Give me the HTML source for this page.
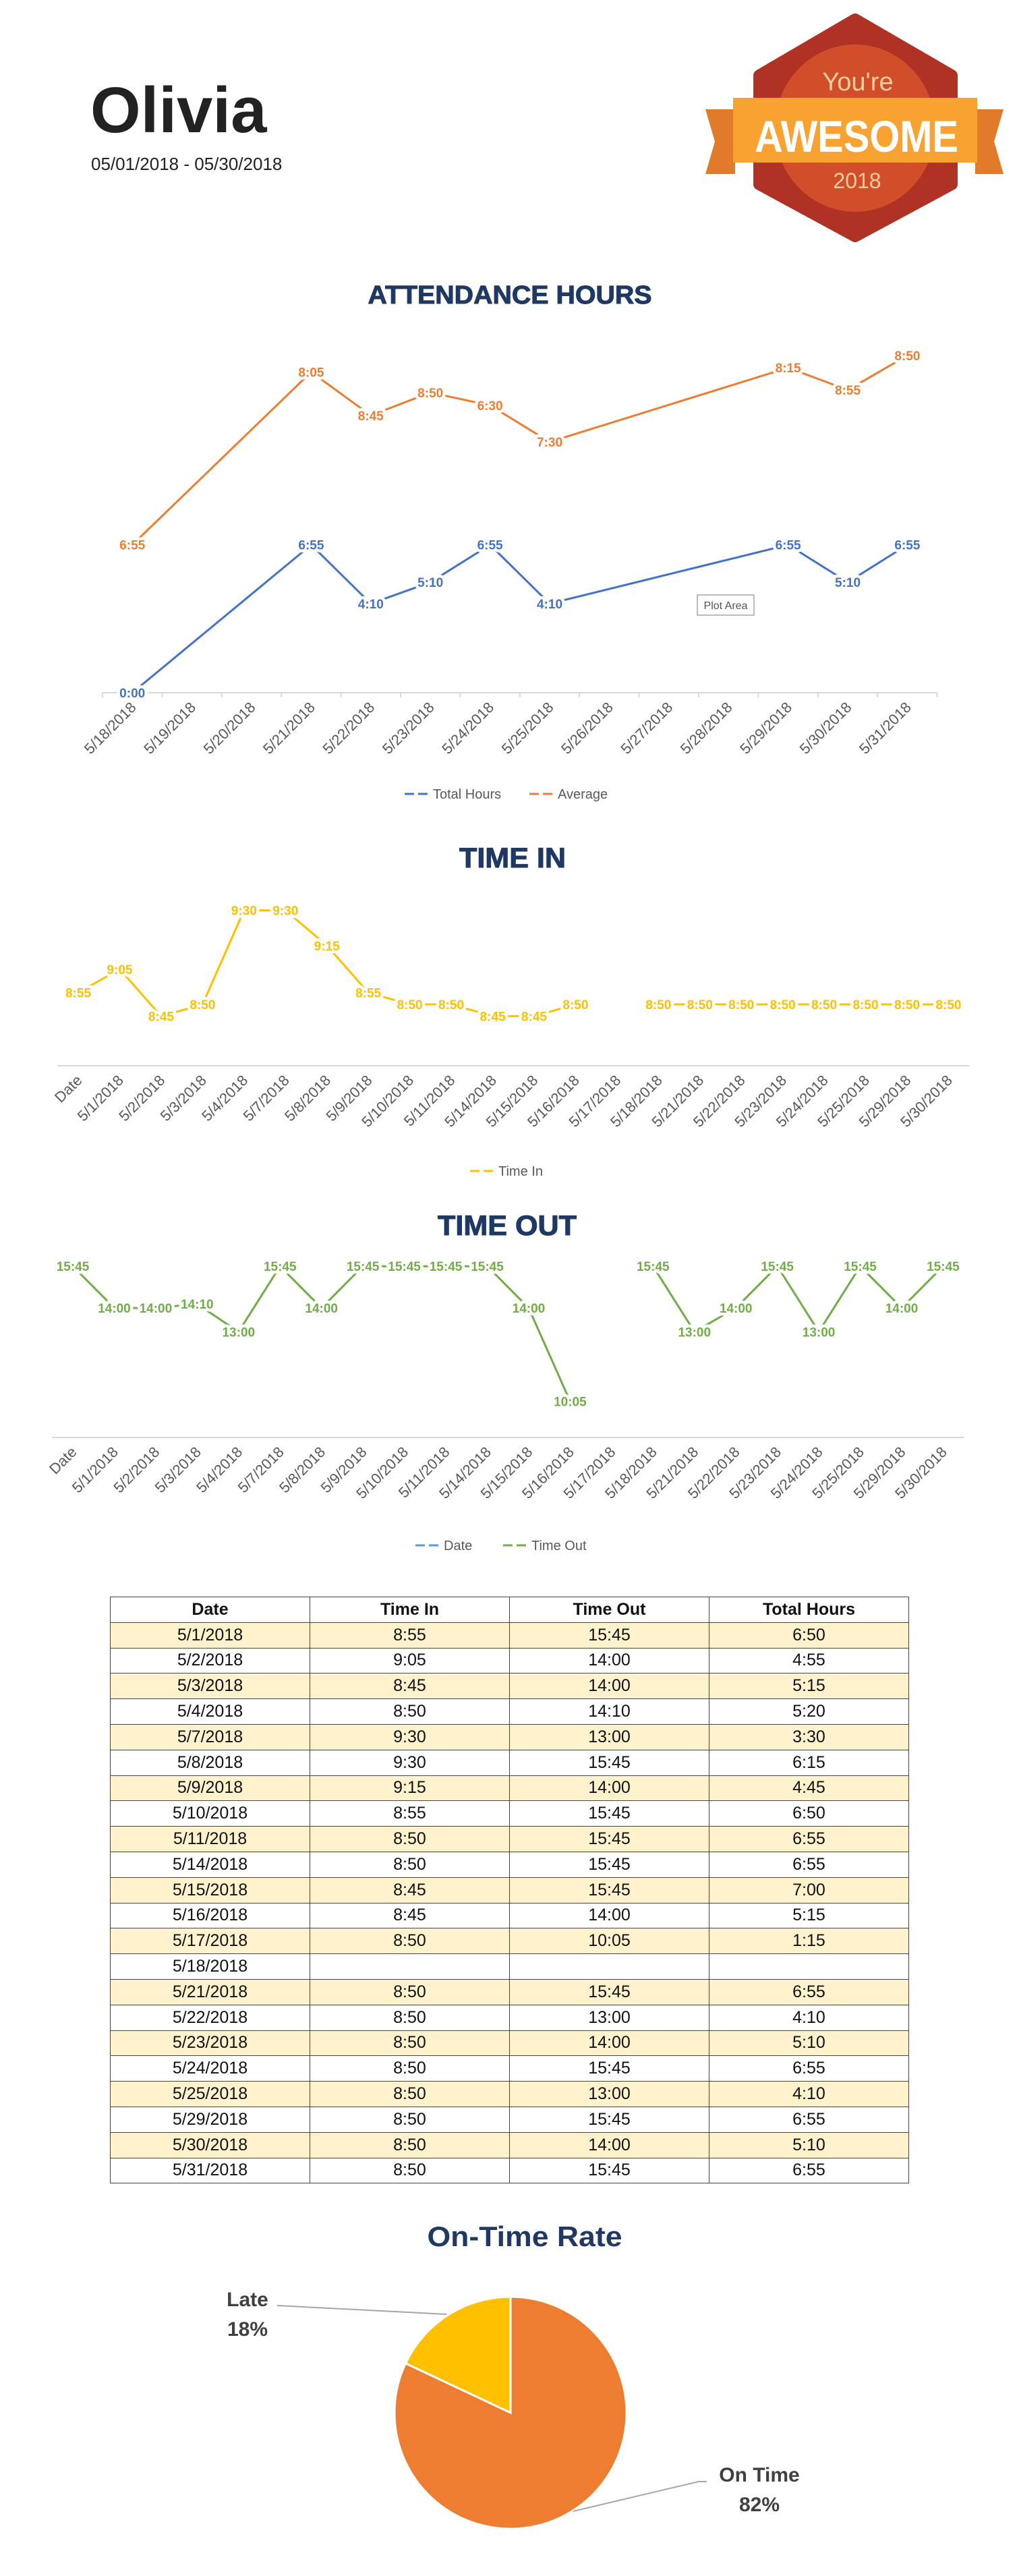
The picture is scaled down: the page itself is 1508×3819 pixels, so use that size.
<!DOCTYPE html>
<html><head><meta charset="utf-8"><style>
html,body{margin:0;padding:0;background:#fff;}
body{width:1508px;height:3819px;position:relative;overflow:hidden;font-family:"Liberation Sans",sans-serif;}
svg{position:absolute;left:0;top:0;}
table{position:absolute;left:163px;top:2367px;width:1185px;border-collapse:collapse;font-family:"Liberation Sans",sans-serif;font-size:25px;color:#111;table-layout:fixed;}
td,th{border:1px solid #444;height:36.8px;padding:0;text-align:center;}
th{font-weight:bold;}
tr.alt td{background:#fff2cc;}
</style></head><body>
<svg id="main" width="1508" height="3819" viewBox="0 0 1508 3819">
  <text x="134" y="196" font-size="96" font-weight="bold" fill="#222">Olivia</text>
  <text x="135" y="252" font-size="26" fill="#222">05/01/2018 - 05/30/2018</text>
  <g>
    <polygon points="1268,29 1411,112 1411,273 1268,350 1126,273 1126,112" fill="#b03224" stroke="#b03224" stroke-width="18" stroke-linejoin="round"/>
    <ellipse cx="1268" cy="190" rx="119" ry="124" fill="#d24d2a"/>
    <polygon points="1046,162 1090,162 1090,258 1046,258 1060,210" fill="#e07b29"/>
    <polygon points="1488,162 1446,162 1446,258 1488,258 1474,210" fill="#e07b29"/>
    <rect x="1087" y="145" width="362" height="96" fill="#f8a231"/>
    <text x="1272" y="134" font-size="38" fill="#f9cf9f" text-anchor="middle">You're</text>
    <text x="1270" y="225" font-size="66" font-weight="bold" fill="#fff" text-anchor="middle" textLength="302" lengthAdjust="spacingAndGlyphs">AWESOME</text>
    <text x="1271" y="279" font-size="32" fill="#f9cf9f" text-anchor="middle">2018</text>
  </g>
  <text x="756" y="450" font-size="38" font-weight="bold" fill="#1f3864" text-anchor="middle" textLength="421" lengthAdjust="spacingAndGlyphs" stroke="#1f3864" stroke-width="1">ATTENDANCE HOURS</text>
  <text x="760" y="1286" font-size="42" font-weight="bold" fill="#1f3864" text-anchor="middle" textLength="158" lengthAdjust="spacingAndGlyphs" stroke="#1f3864" stroke-width="1">TIME IN</text>
  <text x="752" y="1831" font-size="42" font-weight="bold" fill="#1f3864" text-anchor="middle" textLength="206" lengthAdjust="spacingAndGlyphs" stroke="#1f3864" stroke-width="1">TIME OUT</text>
  <text x="778" y="3330" font-size="42" font-weight="bold" fill="#1f3864" text-anchor="middle" textLength="289" lengthAdjust="spacingAndGlyphs">On-Time Rate</text>
  <g>
    <rect x="1034" y="882" width="84" height="30" fill="#fff" stroke="#777" stroke-width="1"/>
    <text x="1076" y="903" font-size="16" fill="#555" text-anchor="middle">Plot Area</text>
  </g>
  <g id="c1"></g>
  <g id="c2"></g>
  <g id="c3"></g>
  <g id="pie"></g>
</svg>

<table>
<tr><th>Date</th><th>Time In</th><th>Time Out</th><th>Total Hours</th></tr>
<tr class="alt"><td>5/1/2018</td><td>8:55</td><td>15:45</td><td>6:50</td></tr>
<tr><td>5/2/2018</td><td>9:05</td><td>14:00</td><td>4:55</td></tr>
<tr class="alt"><td>5/3/2018</td><td>8:45</td><td>14:00</td><td>5:15</td></tr>
<tr><td>5/4/2018</td><td>8:50</td><td>14:10</td><td>5:20</td></tr>
<tr class="alt"><td>5/7/2018</td><td>9:30</td><td>13:00</td><td>3:30</td></tr>
<tr><td>5/8/2018</td><td>9:30</td><td>15:45</td><td>6:15</td></tr>
<tr class="alt"><td>5/9/2018</td><td>9:15</td><td>14:00</td><td>4:45</td></tr>
<tr><td>5/10/2018</td><td>8:55</td><td>15:45</td><td>6:50</td></tr>
<tr class="alt"><td>5/11/2018</td><td>8:50</td><td>15:45</td><td>6:55</td></tr>
<tr><td>5/14/2018</td><td>8:50</td><td>15:45</td><td>6:55</td></tr>
<tr class="alt"><td>5/15/2018</td><td>8:45</td><td>15:45</td><td>7:00</td></tr>
<tr><td>5/16/2018</td><td>8:45</td><td>14:00</td><td>5:15</td></tr>
<tr class="alt"><td>5/17/2018</td><td>8:50</td><td>10:05</td><td>1:15</td></tr>
<tr><td>5/18/2018</td><td></td><td></td><td></td></tr>
<tr class="alt"><td>5/21/2018</td><td>8:50</td><td>15:45</td><td>6:55</td></tr>
<tr><td>5/22/2018</td><td>8:50</td><td>13:00</td><td>4:10</td></tr>
<tr class="alt"><td>5/23/2018</td><td>8:50</td><td>14:00</td><td>5:10</td></tr>
<tr><td>5/24/2018</td><td>8:50</td><td>15:45</td><td>6:55</td></tr>
<tr class="alt"><td>5/25/2018</td><td>8:50</td><td>13:00</td><td>4:10</td></tr>
<tr><td>5/29/2018</td><td>8:50</td><td>15:45</td><td>6:55</td></tr>
<tr class="alt"><td>5/30/2018</td><td>8:50</td><td>14:00</td><td>5:10</td></tr>
<tr><td>5/31/2018</td><td>8:50</td><td>15:45</td><td>6:55</td></tr>
</table>

<script>
// ---- Attendance Hours data ----
var attCategories = ["5/18/2018","5/19/2018","5/20/2018","5/21/2018","5/22/2018","5/23/2018","5/24/2018","5/25/2018","5/26/2018","5/27/2018","5/28/2018","5/29/2018","5/30/2018","5/31/2018"];
var totalHours = [0, null, null, 6.917, 4.167, 5.167, 6.917, 4.167, null, null, null, 6.917, 5.167, 6.917];
var averageValues = [6.92, null, null, 15.0, 12.97, 14.04, 13.44, 11.73, null, null, null, 15.2, 14.16, 15.77];
var averageLabels = ["6:55", "", "", "8:05", "8:45", "8:50", "6:30", "7:30", "", "", "", "8:15", "8:55", "8:50"];
// ---- Time In / Time Out data (minutes of day) ----
var timeCategories = ["Date","5/1/2018","5/2/2018","5/3/2018","5/4/2018","5/7/2018","5/8/2018","5/9/2018","5/10/2018","5/11/2018","5/14/2018","5/15/2018","5/16/2018","5/17/2018","5/18/2018","5/21/2018","5/22/2018","5/23/2018","5/24/2018","5/25/2018","5/29/2018","5/30/2018"];
var timeInMinutes = [535,545,525,530,570,570,555,535,530,530,525,525,530,null,530,530,530,530,530,530,530,530];
var timeOutMinutes = [945,840,840,850,780,945,840,945,945,945,945,840,605,null,945,780,840,945,780,945,840,945];
// ---- Pie data ----
var pieLabels = ["Late","On Time"];
var pieValues = [18, 82];

var NS = "http://www.w3.org/2000/svg";
function mk(parent, tag, attrs) {
  var e = document.createElementNS(NS, tag);
  for (var k in attrs) e.setAttribute(k, attrs[k]);
  parent.appendChild(e);
  return e;
}
function fmtH(h) { var m = Math.round(h * 60); var mm = m % 60; return Math.floor(m / 60) + ":" + (mm < 10 ? "0" : "") + mm; }
function fmtM(m) { var mm = m % 60; return Math.floor(m / 60) + ":" + (mm < 10 ? "0" : "") + mm; }

function drawSeries(g, vals, labels, xf, yf, color, connect, name) {
  var segs = [], cur = [];
  for (var i = 0; i < vals.length; i++) {
    if (vals[i] === null) { if (!connect && cur.length) { segs.push(cur); cur = []; } continue; }
    cur.push(xf(i) + "," + yf(vals[i]));
  }
  if (cur.length) segs.push(cur);
  segs.forEach(function (s) {
    var pl = mk(g, "polyline", { points: s.join(" "), fill: "none", stroke: color, "stroke-width": 3, "stroke-linejoin": "round" });
    
    
  });
  for (var j = 0; j < vals.length; j++) {
    if (vals[j] === null) continue;
    var t = mk(g, "text", { x: xf(j), y: yf(vals[j]) + 7, "text-anchor": "middle", "font-size": 19, "font-weight": "bold", fill: color, stroke: "#fff", "stroke-width": 9, "paint-order": "stroke", "stroke-linejoin": "round" });
    t.textContent = labels[j];
    
    
  }
}
function drawAxis(g, cats, xf, left, right, axisY, ticks, cw) {
  var ax = mk(g, "line", { x1: left, x2: right, y1: axisY, y2: axisY, stroke: "#d9d9d9", "stroke-width": 2 });
  
  
  if (ticks) {
    for (var k = 0; k <= cats.length; k++) {
      var tx = left + k * cw;
      mk(g, "line", { x1: tx, x2: tx, y1: axisY, y2: axisY + 7, stroke: "#d9d9d9", "stroke-width": 2 });
    }
  }
  cats.forEach(function (c, i) {
    var x = xf(i) + 7, y = axisY + 23;
    var t = mk(g, "text", { x: x, y: y, "text-anchor": "end", "font-size": 22, fill: "#595959", transform: "rotate(-45 " + x + " " + y + ")" });
    t.textContent = c;
    
    
  });
}
function legendItem(g, x, y, color, label) {
  var l = mk(g, "line", { x1: x, x2: x + 40, y1: y, y2: y, stroke: color, "stroke-width": 3, "stroke-dasharray": "14,6" });
  
  
  var t = mk(g, "text", { x: x + 42, y: y + 7, "font-size": 20, fill: "#595959" });
  t.textContent = label;
  
  
}

// Chart 1
(function () {
  var g = document.getElementById("c1");
  var left = 152, cw = 88.4, axisY = 1027;
  var xf = function (i) { return left + cw * (i + 0.5); };
  var yf = function (v) { return axisY - v * 31.7; };
  drawAxis(g, attCategories, xf, left, left + cw * attCategories.length, axisY, true, cw);
  drawSeries(g, averageValues, averageLabels, xf, yf, "#ed7d31", true, "average");
  drawSeries(g, totalHours, totalHours.map(function (v) { return v === null ? "" : fmtH(v); }), xf, yf, "#4472c4", true, "total-hours");
  legendItem(g, 600, 1177, "#4472c4", "Total Hours");
  legendItem(g, 785, 1177, "#ed7d31", "Average");
})();

// Chart 2 - Time In
(function () {
  var g = document.getElementById("c2");
  var cw = 61.45, left = 116 - cw / 2, axisY = 1580;
  var xf = function (i) { return 116 + cw * i; };
  var yf = function (m) { return 1349.6 + (570 - m) * 3.486; };
  drawAxis(g, timeCategories, xf, left, left + cw * timeCategories.length, axisY, false, cw);
  drawSeries(g, timeInMinutes, timeInMinutes.map(function (v) { return v === null ? "" : fmtM(v); }), xf, yf, "#ffc000", false, "time-in");
  legendItem(g, 697, 1736, "#ffc000", "Time In");
})();

// Chart 3 - Time Out
(function () {
  var g = document.getElementById("c3");
  var cw = 61.45, left = 108 - cw / 2, axisY = 2131;
  var xf = function (i) { return 108 + cw * i; };
  var yf = function (m) { return 1877.2 + (945 - m) * 0.5895; };
  drawAxis(g, timeCategories, xf, left, left + cw * timeCategories.length, axisY, false, cw);
  drawSeries(g, timeOutMinutes, timeOutMinutes.map(function (v) { return v === null ? "" : fmtM(v); }), xf, yf, "#70ad47", false, "time-out");
  legendItem(g, 616, 2291, "#5b9bd5", "Date");
  legendItem(g, 746, 2291, "#70ad47", "Time Out");
})();

// Pie
(function () {
  var g = document.getElementById("pie");
  var cx = 757, cy = 3577, r = 172;
  var total = pieValues.reduce(function (a, b) { return a + b; }, 0);
  var colors = ["#ffc000", "#ed7d31"];
  var start = -Math.PI / 2;
  for (var i = 0; i < pieValues.length; i++) {
    var sweep = pieValues[i] / total * 2 * Math.PI;
    var end = start - sweep; // counter-clockwise
    var x1 = cx + r * Math.cos(start), y1 = cy + r * Math.sin(start);
    var x2 = cx + r * Math.cos(end), y2 = cy + r * Math.sin(end);
    var large = sweep > Math.PI ? 1 : 0;
    var p = mk(g, "path", { d: "M" + cx + "," + cy + " L" + x1 + "," + y1 + " A" + r + "," + r + " 0 " + large + " 0 " + x2 + "," + y2 + " Z", fill: colors[i], stroke: "#fff", "stroke-width": 3 });
    
    
    start = end;
  }
  mk(g, "polyline", { points: "411,3418 662,3431", fill: "none", stroke: "#a6a6a6", "stroke-width": 2 });
  mk(g, "polyline", { points: "850,3723 1036,3679 1048,3679", fill: "none", stroke: "#a6a6a6", "stroke-width": 2 });
  var lbl = [[367, 3419, pieLabels[0]], [367, 3463, pieValues[0] + "%"], [1126, 3679, pieLabels[1]], [1126, 3723, pieValues[1] + "%"]];
  lbl.forEach(function (L) {
    var t = mk(g, "text", { x: L[0], y: L[1], "text-anchor": "middle", "font-size": 30, "font-weight": "bold", fill: "#404040" });
    t.textContent = L[2];
    
    
  });
})();
</script>
</body></html>
